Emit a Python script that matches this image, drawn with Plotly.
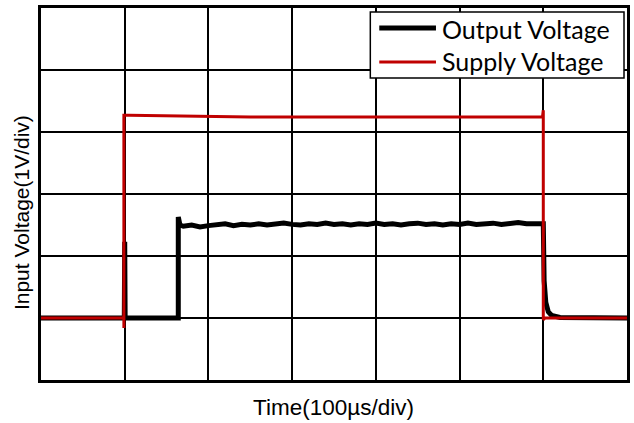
import plotly.graph_objects as go

# ---- data (units: x in divisions of 100us, y in volts / divisions) ----
supply_x = [0.0, 0.99, 0.99, 0.99, 1.05, 1.8, 2.5, 5.99, 6.0, 6.0, 6.02, 7.0]
supply_y = [0.0, 0.0, -0.16, 3.27, 3.27, 3.26, 3.24, 3.24, 3.35, -0.03, 0.0, 0.0]

output_x = [0.0, 0.995, 1.0, 1.005, 1.64, 1.64, 1.66, 1.7, 1.8, 1.9, 2.0, 2.1, 2.2, 2.3,
            2.4, 2.5, 2.6, 2.7, 2.8, 2.9, 3.0, 3.1, 3.2, 3.3, 3.4, 3.5, 3.6, 3.7, 3.8,
            3.9, 4.0, 4.1, 4.2, 4.3, 4.4, 4.5, 4.6, 4.7, 4.8, 4.9, 5.0, 5.1, 5.2, 5.3,
            5.4, 5.5, 5.6, 5.7, 5.8, 5.9, 5.98, 6.0, 6.01, 6.03, 6.06, 6.1, 6.2, 7.0]
output_y = [0.0, 0.0, 1.23, 0.0, 0.0, 1.63, 1.50, 1.48, 1.50, 1.47, 1.49, 1.50, 1.52, 1.49,
            1.51, 1.50, 1.52, 1.50, 1.51, 1.53, 1.51, 1.50, 1.52, 1.51, 1.53, 1.51, 1.52, 1.50, 1.52,
            1.51, 1.53, 1.51, 1.52, 1.50, 1.52, 1.53, 1.51, 1.52, 1.50, 1.52, 1.51, 1.53, 1.51, 1.52,
            1.53, 1.51, 1.52, 1.54, 1.52, 1.53, 1.52, 1.52, 0.6, 0.25, 0.1, 0.04, 0.01, 0.0]

legend_names = ["Output Voltage", "Supply Voltage"]
x_title = "Time(100µs/div)"
y_title = "Input Voltage(1V/div)"

# ---- layout geometry (pixels) ----
W, H = 634, 423
L, R, T, B = 41, 4, 8, 43
PW, PH = W - L - R, H - T - B


def px(x):
    return (x - L) / PW


def py(y):
    return (H - B - y) / PH


fig = go.Figure()
fig.add_trace(go.Scatter(x=output_x, y=output_y, mode="lines", name=legend_names[0],
                         line=dict(color="black", width=5), showlegend=False))
fig.add_trace(go.Scatter(x=supply_x, y=supply_y, mode="lines", name=legend_names[1],
                         line=dict(color="#C00000", width=3), showlegend=False))

axis_common = dict(showticklabels=False, ticks="", showgrid=True, gridcolor="black",
                   gridwidth=2, zeroline=False, showline=True, linecolor="black",
                   linewidth=3, mirror=True, dtick=1)
fig.update_xaxes(range=[0, 7], tick0=0, **axis_common)
fig.update_yaxes(range=[-1, 5], tick0=-1, **axis_common)

shapes = [
    dict(type="rect", xref="paper", yref="paper", x0=px(372), x1=px(627), y0=py(78), y1=py(12),
         line=dict(color="black", width=1.5), fillcolor="white", layer="above"),
    dict(type="line", xref="paper", yref="paper", x0=px(381), x1=px(438), y0=py(28), y1=py(28),
         line=dict(color="black", width=5), layer="above"),
    dict(type="line", xref="paper", yref="paper", x0=px(381), x1=px(438), y0=py(62), y1=py(62),
         line=dict(color="#C00000", width=3), layer="above"),
]

leg_font = dict(family="Lato, Carlito, sans-serif", size=25, color="black")
xt_font = dict(family="Liberation Sans, Arial, sans-serif", size=22.5, color="black")
yt_font = dict(family="Liberation Sans, Arial, sans-serif", size=21, color="black")
annotations = [
    dict(text=legend_names[0], xref="paper", yref="paper", x=px(442), y=py(29),
         xanchor="left", yanchor="middle", showarrow=False, font=leg_font),
    dict(text=legend_names[1], xref="paper", yref="paper", x=px(442), y=py(61),
         xanchor="left", yanchor="middle", showarrow=False, font=leg_font),
    dict(text=x_title, xref="paper", yref="paper", x=px(335), y=py(407),
         xanchor="center", yanchor="middle", showarrow=False, font=xt_font),
    dict(text=y_title, xref="paper", yref="paper", x=px(22), y=py(213), textangle=-90,
         xanchor="center", yanchor="middle", showarrow=False, font=yt_font),
]

fig.update_layout(width=W, height=H, margin=dict(l=L, r=R, t=T, b=B),
                  paper_bgcolor="white", plot_bgcolor="white",
                  shapes=shapes, annotations=annotations, showlegend=False)

fig.write_html("out.html")
